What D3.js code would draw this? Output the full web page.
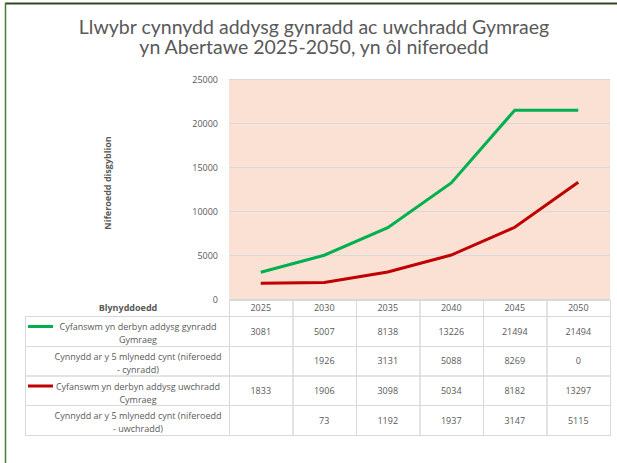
<!DOCTYPE html>
<html>
<head>
<meta charset="utf-8">
<script src="https://cdn.jsdelivr.net/npm/d3@7"></script>
<style>
  body { margin: 0; background: #fff; }
  svg { display: block; font-family: "Open Sans", sans-serif; }
</style>
</head>
<body>
<svg width="617" height="463"></svg>
<script>
const years = ["2025", "2030", "2035", "2040", "2045", "2050"]
const primaryTotal = [3081, 5007, 8138, 13226, 21494, 21494]
const primaryGrowth = [null, 1926, 3131, 5088, 8269, 0]
const secondaryTotal = [1833, 1906, 3098, 5034, 8182, 13297]
const secondaryGrowth = [null, 73, 1192, 1937, 3147, 5115]
const yTicks = [0, 5000, 10000, 15000, 20000, 25000]

const titleLines = ["Llwybr cynnydd addysg gynradd ac uwchradd Gymraeg", "yn Abertawe 2025-2050, yn ôl niferoedd"]

const rows = [
  {label: ["Cyfanswm yn derbyn addysg gynradd", "Gymraeg"], values: primaryTotal, key: "#00b050"},
  {label: ["Cynnydd ar y 5 mlynedd cynt (niferoedd", "- cynradd)"], values: primaryGrowth},
  {label: ["Cyfanswm yn derbyn addysg uwchradd", "Cymraeg"], values: secondaryTotal, key: "#c00000"},
  {label: ["Cynnydd ar y 5 mlynedd cynt (niferoedd", "- uwchradd)"], values: secondaryGrowth}
]

const textColour = "#595959"
const gridColour = "#d9d9d9"

const svg = d3.select("svg")

// outer frame (top and left edge only visible)
svg.append("line").attr("x1", 5).attr("x2", 617).attr("y1", 3.5).attr("y2", 3.5)
  .attr("stroke", "#2f4a20").attr("stroke-width", 2)
svg.append("line").attr("x1", 5.5).attr("x2", 5.5).attr("y1", 3).attr("y2", 463)
  .attr("stroke", "#4f7a34").attr("stroke-width", 1.5)

// title
svg.append("text")
  .attr("x", 314).attr("y", 33.5)
  .attr("text-anchor", "middle")
  .attr("fill", textColour)
  .style("font-family", "Lato, sans-serif")
  .style("font-size", "19.5px")
  .selectAll("tspan")
  .data(titleLines)
  .enter().append("tspan")
  .attr("x", 314)
  .attr("dy", (d, i) => i ? 20 : 0)
  .text(d => d)

const x = d3.scaleBand().domain(years).range([229, 610])
const y = d3.scaleLinear().domain([0, 25000]).range([299.3, 79.3])

// plot background
svg.append("rect")
  .attr("x", x.range()[0]).attr("y", y(25000))
  .attr("width", x.range()[1] - x.range()[0])
  .attr("height", y(0) - y(25000))
  .attr("fill", "#fbe1d4")

// gridlines
svg.append("g")
  .selectAll("line")
  .data(yTicks)
  .enter().append("line")
  .attr("x1", x.range()[0]).attr("x2", x.range()[1])
  .attr("y1", d => Math.round(y(d)) + 0.5)
  .attr("y2", d => Math.round(y(d)) + 0.5)
  .attr("stroke", gridColour)
  .attr("stroke-width", 1)

// y axis labels
const yAxis = svg.append("g")
  .attr("transform", `translate(${x.range()[0] - 11},0)`)
  .call(d3.axisLeft(y).tickValues(yTicks).tickSize(0).tickPadding(0).tickFormat(d3.format("d")))
yAxis.select(".domain").remove()
yAxis.selectAll("text")
  .attr("fill", textColour)
  .style("font-size", "9px")
  .style("font-family", "Open Sans, sans-serif")

svg.append("text")
  .attr("transform", "translate(111,183) rotate(-90)")
  .attr("text-anchor", "middle")
  .attr("fill", textColour)
  .style("font-size", "9px")
  .style("font-weight", "bold")
  .text("Niferoedd disgyblion")

// lines
const line = d3.line()
  .x((d, i) => x(years[i]) + x.bandwidth() / 2)
  .y(d => y(d))

svg.append("path").datum(primaryTotal)
  .attr("d", line).attr("fill", "none")
  .attr("stroke", "#00b050").attr("stroke-width", 3)
svg.append("path").datum(secondaryTotal)
  .attr("d", line).attr("fill", "none")
  .attr("stroke", "#c00000").attr("stroke-width", 3)

// data table
const rowTops = [316, 346, 375.5, 405, 435]
const headerTop = 300
const tableLeft = 25
const table = svg.append("g")

// header year cells
years.forEach(yr => {
  table.append("rect")
    .attr("x", x(yr) + 0.5).attr("y", headerTop + 0.5)
    .attr("width", x.bandwidth()).attr("height", rowTops[0] - headerTop)
    .attr("fill", "none").attr("stroke", gridColour)
  table.append("text")
    .attr("x", x(yr) + x.bandwidth() / 2).attr("y", 311)
    .attr("text-anchor", "middle").attr("fill", textColour)
    .style("font-size", "9px")
    .text(yr)
})
table.append("text")
  .attr("x", 128).attr("y", 311)
  .attr("text-anchor", "middle").attr("fill", textColour)
  .style("font-size", "9px").style("font-weight", "bold")
  .text("Blynyddoedd")

rows.forEach((row, r) => {
  const top = rowTops[r], h = rowTops[r + 1] - top
  table.append("rect")
    .attr("x", tableLeft + 0.5).attr("y", top + 0.5)
    .attr("width", x.range()[0] - tableLeft).attr("height", h)
    .attr("fill", "none").attr("stroke", gridColour)
  if (row.key) {
    table.append("line")
      .attr("x1", 28).attr("x2", 53)
      .attr("y1", top + 10.5).attr("y2", top + 10.5)
      .attr("stroke", row.key).attr("stroke-width", 3)
  }
  table.append("text")
    .attr("text-anchor", "middle").attr("fill", textColour)
    .style("font-size", "9px")
    .selectAll("tspan")
    .data(row.label)
    .enter().append("tspan")
    .attr("x", 138)
    .attr("y", (d, i) => top + 14 + i * 13)
    .text(d => d)

  years.forEach((yr, i) => {
    table.append("rect")
      .attr("x", x(yr) + 0.5).attr("y", top + 0.5)
      .attr("width", x.bandwidth()).attr("height", h)
      .attr("fill", "none").attr("stroke", gridColour)
    if (row.values[i] !== null) {
      table.append("text")
        .attr("x", x(yr) + x.bandwidth() / 2).attr("y", top + h / 2 + 3.5)
        .attr("text-anchor", "middle").attr("fill", textColour)
        .style("font-size", "9px")
        .text(row.values[i])
    }
  })
})
</script>
</body>
</html>
